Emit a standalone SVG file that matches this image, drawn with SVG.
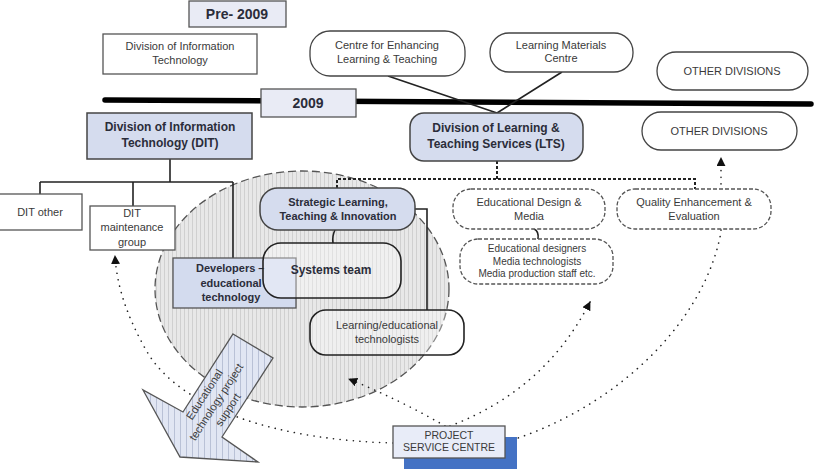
<svg xmlns="http://www.w3.org/2000/svg" width="817" height="472" viewBox="0 0 817 472">
<style>
text{font-family:"Liberation Sans",Arial,sans-serif;fill:#3a3a3a;text-anchor:middle}
.b{font-weight:bold;fill:#2b2d3a}
.s11{font-size:11px}
.s10{font-size:10px}
.box{fill:#fff;stroke:#555;stroke-width:1.3}
.blue{fill:#d5dcee;stroke:#444;stroke-width:1.5}
.rnd{fill:#fff;stroke:#444;stroke-width:1.3}
.dash{fill:#fff;stroke:#555;stroke-width:1.3;stroke-dasharray:4 2}
.ln{fill:none;stroke:#222;stroke-width:1.6}
.dot{fill:none;stroke:#222;stroke-width:1.6;stroke-dasharray:0.1 6.5;stroke-linecap:round}
.tree{fill:none;stroke:#222;stroke-width:2;stroke-dasharray:3 2}
</style>
<defs>
<pattern id="stripes" patternUnits="userSpaceOnUse" width="4" height="10">
<rect width="4" height="10" fill="#e8e8e8"/>
<line x1="0.5" y1="0" x2="0.5" y2="10" stroke="#d0d0d0" stroke-width="1"/>
</pattern>
<pattern id="bstripes" patternUnits="userSpaceOnUse" width="6" height="10">
<rect width="6" height="10" fill="#e1e6f3"/>
<line x1="0.5" y1="0" x2="0.5" y2="10" stroke="#b9c1d6" stroke-width="1"/>
</pattern>
<marker id="ah" viewBox="0 0 10 10" refX="9" refY="5" markerWidth="9" markerHeight="9" markerUnits="userSpaceOnUse" orient="auto">
<path d="M0,0 L10,5 L0,10 z" fill="#111"/>
</marker>
</defs>

<g id="scope-circle">
<ellipse cx="302" cy="289" rx="147" ry="118" fill="url(#stripes)" stroke="#555" stroke-width="1.3" stroke-dasharray="8 4"/>
</g>

<g id="timeline">
<line x1="105" y1="100" x2="811" y2="104" stroke="#000" stroke-width="5.5" stroke-linecap="round"/>
</g>

<g id="connectors">
<path class="ln" d="M388,76 L497,113 M562,72 L497,113"/>
<path class="ln" d="M170,159 L170,182 M40,182 L233,182 M40,182 L40,194 M133,182 L133,206 M233,182 L233,258"/>
<path class="tree" d="M497,161 L497,179 M337,188 L337,179 L695,179 L695,189"/>
<path class="ln" d="M335,230 Q332,236 333,243"/>
<path class="ln" d="M415,209 L427,209 L427,310"/>
<path class="ln" d="M534,229 Q539,231 538,239"/>
<path class="dot" d="M512,440 C620,405 705,320 721,232 L721,158" marker-end="url(#ah)"/>
<path class="dot" d="M450,426 Q545,390 590,302" marker-end="url(#ah)"/>
<path class="dot" d="M445,426 Q400,400 349,379" marker-end="url(#ah)"/>
<path class="dot" d="M393,443 C280,440 180,410 146,350 C128,318 117,288 115,256" marker-end="url(#ah)"/>
</g>

<g id="pre2009">
<rect x="189" y="1" width="97" height="26" fill="#e9ebf5" stroke="#555" stroke-width="1.3"/>
<text x="237" y="19" class="b" style="font-size:14px">Pre- 2009</text>
</g>
<g id="dit-pre">
<rect class="box" x="103" y="34" width="154" height="40"/>
<text class="s11" x="180" y="50">Division of Information</text>
<text class="s11" x="180" y="64">Technology</text>
</g>
<g id="y2009">
<rect x="261" y="89" width="95" height="28" fill="#e9ebf5" stroke="#555" stroke-width="1.3"/>
<text x="308" y="108" class="b" style="font-size:14px">2009</text>
</g>
<g id="celt">
<rect class="rnd" x="310" y="31" width="155" height="45" rx="20"/>
<text class="s11" x="387" y="49">Centre for Enhancing</text>
<text class="s11" x="387" y="63">Learning &amp; Teaching</text>
</g>
<g id="lmc">
<rect class="rnd" x="490" y="33" width="143" height="39" rx="19"/>
<text class="s11" x="561" y="49">Learning Materials</text>
<text class="s11" x="561" y="62">Centre</text>
</g>
<g id="other1">
<rect class="rnd" x="657" y="52" width="151" height="38" rx="19"/>
<text class="s11" x="732" y="75">OTHER DIVISIONS</text>
</g>
<g id="other2">
<rect class="rnd" x="642" y="112" width="155" height="38" rx="19"/>
<text class="s11" x="719" y="135">OTHER DIVISIONS</text>
</g>
<g id="dit">
<rect class="blue" x="87" y="113" width="165" height="46"/>
<text class="b" style="font-size:12px" x="170" y="131">Division of Information</text>
<text class="b" style="font-size:12px" x="170" y="147">Technology (DIT)</text>
</g>
<g id="lts">
<rect class="blue" x="410" y="113" width="173" height="48" rx="14"/>
<text class="b" style="font-size:12px" x="496" y="132">Division of Learning &amp;</text>
<text class="b" style="font-size:12px" x="496" y="148">Teaching Services (LTS)</text>
</g>
<g id="dit-other">
<rect class="box" x="-1" y="194" width="83" height="36"/>
<text class="s11" x="40" y="216">DIT other</text>
</g>
<g id="dit-maint">
<rect class="box" x="90" y="206" width="85" height="44"/>
<text class="s11" x="132" y="217">DIT</text>
<text class="s11" x="132" y="231">maintenance</text>
<text class="s11" x="132" y="246">group</text>
</g>
<g id="developers">
<rect x="173" y="258" width="123" height="50" fill="#d3dbee" stroke="#555" stroke-width="1.3"/>
<text class="b s11" x="196" y="272" style="text-anchor:start">Developers –</text>
<text class="b s11" x="231" y="287">educational</text>
<text class="b s11" x="231" y="301">technology</text>
</g>
<g id="systems">
<rect x="263" y="243" width="138" height="55" rx="18" fill="#fff" fill-opacity="0.35" stroke="#222" stroke-width="1.6"/>
<text class="b" style="font-size:12px" x="331" y="274">Systems team</text>
</g>
<g id="strategic">
<rect class="blue" x="260" y="188" width="155" height="42" rx="18"/>
<text class="b s11" x="338" y="206">Strategic Learning,</text>
<text class="b s11" x="338" y="220">Teaching &amp; Innovation</text>
</g>
<g id="learning-tech">
<rect x="310" y="310" width="154" height="45" rx="16" fill="#fff" fill-opacity="0.3" stroke="#222" stroke-width="1.6"/>
<text class="s11" x="387" y="329">Learning/educational</text>
<text class="s11" x="387" y="343">technologists</text>
</g>
<g id="ed-design">
<rect class="dash" x="453" y="189" width="152" height="40" rx="18"/>
<text class="s11" x="529" y="206">Educational Design &amp;</text>
<text class="s11" x="529" y="220">Media</text>
</g>
<g id="quality">
<rect class="dash" x="617" y="189" width="154" height="40" rx="18"/>
<text class="s11" x="694" y="206">Quality Enhancement &amp;</text>
<text class="s11" x="694" y="220">Evaluation</text>
</g>
<g id="ed-designers">
<rect class="dash" x="460" y="239" width="153" height="45" rx="18"/>
<text class="s10" x="537" y="252">Educational designers</text>
<text class="s10" x="537" y="265">Media technologists</text>
<text class="s10" x="537" y="277">Media production staff etc.</text>
</g>
<g id="support-arrow">
<polygon points="233,334 273,358 222,437 258,462 180,457 143,390 183,412" fill="url(#bstripes)" stroke="#555" stroke-width="1.3"/>
<text class="s11" transform="translate(216,402) rotate(-57)"><tspan x="0" y="-10">Educational</tspan><tspan x="0" y="4">technology project</tspan><tspan x="0" y="18">support</tspan></text>
</g>
<g id="psc">
<rect x="404" y="437" width="113" height="32" fill="#4472c4"/>
<rect x="393" y="426" width="112" height="32" fill="#e8ecf8" stroke="#555" stroke-width="1.3"/>
<text class="s10" style="font-size:10.5px" x="449" y="439">PROJECT</text>
<text class="s10" style="font-size:10.5px" x="449" y="451">SERVICE CENTRE</text>
</g>
</svg>
